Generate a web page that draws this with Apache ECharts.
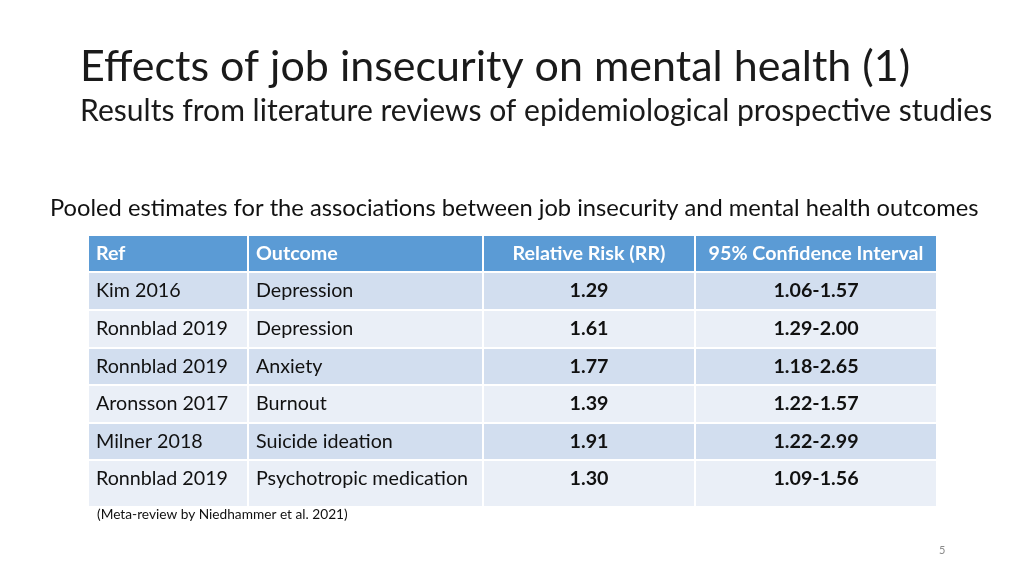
<!DOCTYPE html>
<html><head><meta charset="utf-8">
<script src="https://cdn.jsdelivr.net/npm/echarts@6/dist/echarts.min.js"></script>
<style>html,body{margin:0;padding:0;background:#fff}#c{width:1024px;height:576px}</style>
</head><body><div id="c"></div>
<script>
// ---- data ----
var headers = ['Ref', 'Outcome', 'Relative Risk (RR)', '95% Confidence Interval'];
var refs = ['Kim 2016', 'Ronnblad 2019', 'Ronnblad 2019', 'Aronsson 2017', 'Milner 2018', 'Ronnblad 2019'];
var outcomes = ['Depression', 'Depression', 'Anxiety', 'Burnout', 'Suicide ideation', 'Psychotropic medication'];
var rr = ['1.29', '1.61', '1.77', '1.39', '1.91', '1.30'];
var ci = ['1.06-1.57', '1.29-2.00', '1.18-2.65', '1.22-1.57', '1.22-2.99', '1.09-1.56'];

// ---- layout (table geometry in axis units) ----
var colEdges = [0, 160, 395, 607, 849];
var rowEdges = [0, 37, 75, 113, 150, 188, 225, 272];
var colAlign = ['left', 'left', 'center', 'center'];
var FONT = 'Lato, Calibri, sans-serif';

var cells = [];
for (var r = 0; r < rowEdges.length - 1; r++) {
  for (var c = 0; c < colEdges.length - 1; c++) {
    var txt;
    if (r === 0) txt = headers[c];
    else txt = [refs, outcomes, rr, ci][c][r - 1];
    cells.push([c, r, txt]);
  }
}

var chart = echarts.init(document.getElementById('c'), null, {renderer: 'canvas'});
chart.setOption({
  backgroundColor: '#ffffff',
  animation: false,
  title: [
    {text: 'Effects of job insecurity on mental health (1)', left: 75, top: 41,
     textStyle: {fontFamily: FONT, fontSize: 43, fontWeight: 'normal', color: '#1a1a1a'}},
    {text: 'Results from literature reviews of epidemiological prospective studies', left: 75, top: 91,
     textStyle: {fontFamily: FONT, fontSize: 30.1, fontWeight: 'normal', color: '#1a1a1a'}},
    {text: 'Pooled estimates for the associations between job insecurity and mental health outcomes', left: 45, top: 191,
     textStyle: {fontFamily: FONT, fontSize: 23.7, fontWeight: 'normal', color: '#111'}},
    {text: '(Meta-review by Niedhammer et al. 2021)', left: 92, top: 503,
     textStyle: {fontFamily: FONT, fontSize: 13.7, fontWeight: 'normal', color: '#111'}},
    {text: '5', left: 934, top: 540,
     textStyle: {fontFamily: FONT, fontSize: 11, fontWeight: 'normal', color: '#8a8a8a'}}
  ],
  grid: {left: 88, right: 87, top: 235, bottom: 69},
  xAxis: {type: 'value', min: colEdges[0], max: colEdges[colEdges.length - 1], show: false},
  yAxis: {type: 'value', min: rowEdges[0], max: rowEdges[rowEdges.length - 1], inverse: true, show: false},
  series: [{
    type: 'custom',
    data: cells,
    renderItem: function (params, api) {
      var c = api.value(0), r = api.value(1);
      var d = cells[params.dataIndex];
      var p0 = api.coord([colEdges[c], rowEdges[r]]);
      var p1 = api.coord([colEdges[c + 1], rowEdges[r + 1]]);
      var fill = r === 0 ? '#5b9bd5' : (r % 2 === 1 ? '#d2deef' : '#eaeff7');
      var bold = r === 0 || c >= 2;
      var align = colAlign[c];
      var tx = align === 'left' ? p0[0] + 8 : (p0[0] + p1[0]) / 2;
      return {
        type: 'group',
        children: [
          {type: 'rect', shape: {x: p0[0], y: p0[1], width: p1[0] - p0[0], height: p1[1] - p0[1]},
           style: {fill: fill, stroke: '#ffffff', lineWidth: 2}},
          {type: 'text', style: {text: d[2], x: tx, y: p0[1] + 18.5, align: align, verticalAlign: 'middle',
            font: (bold ? 'bold ' : '') + '19.7px ' + FONT, fill: r === 0 ? '#ffffff' : '#111111'}}
        ]
      };
    }
  }]
});
</script></body></html>
